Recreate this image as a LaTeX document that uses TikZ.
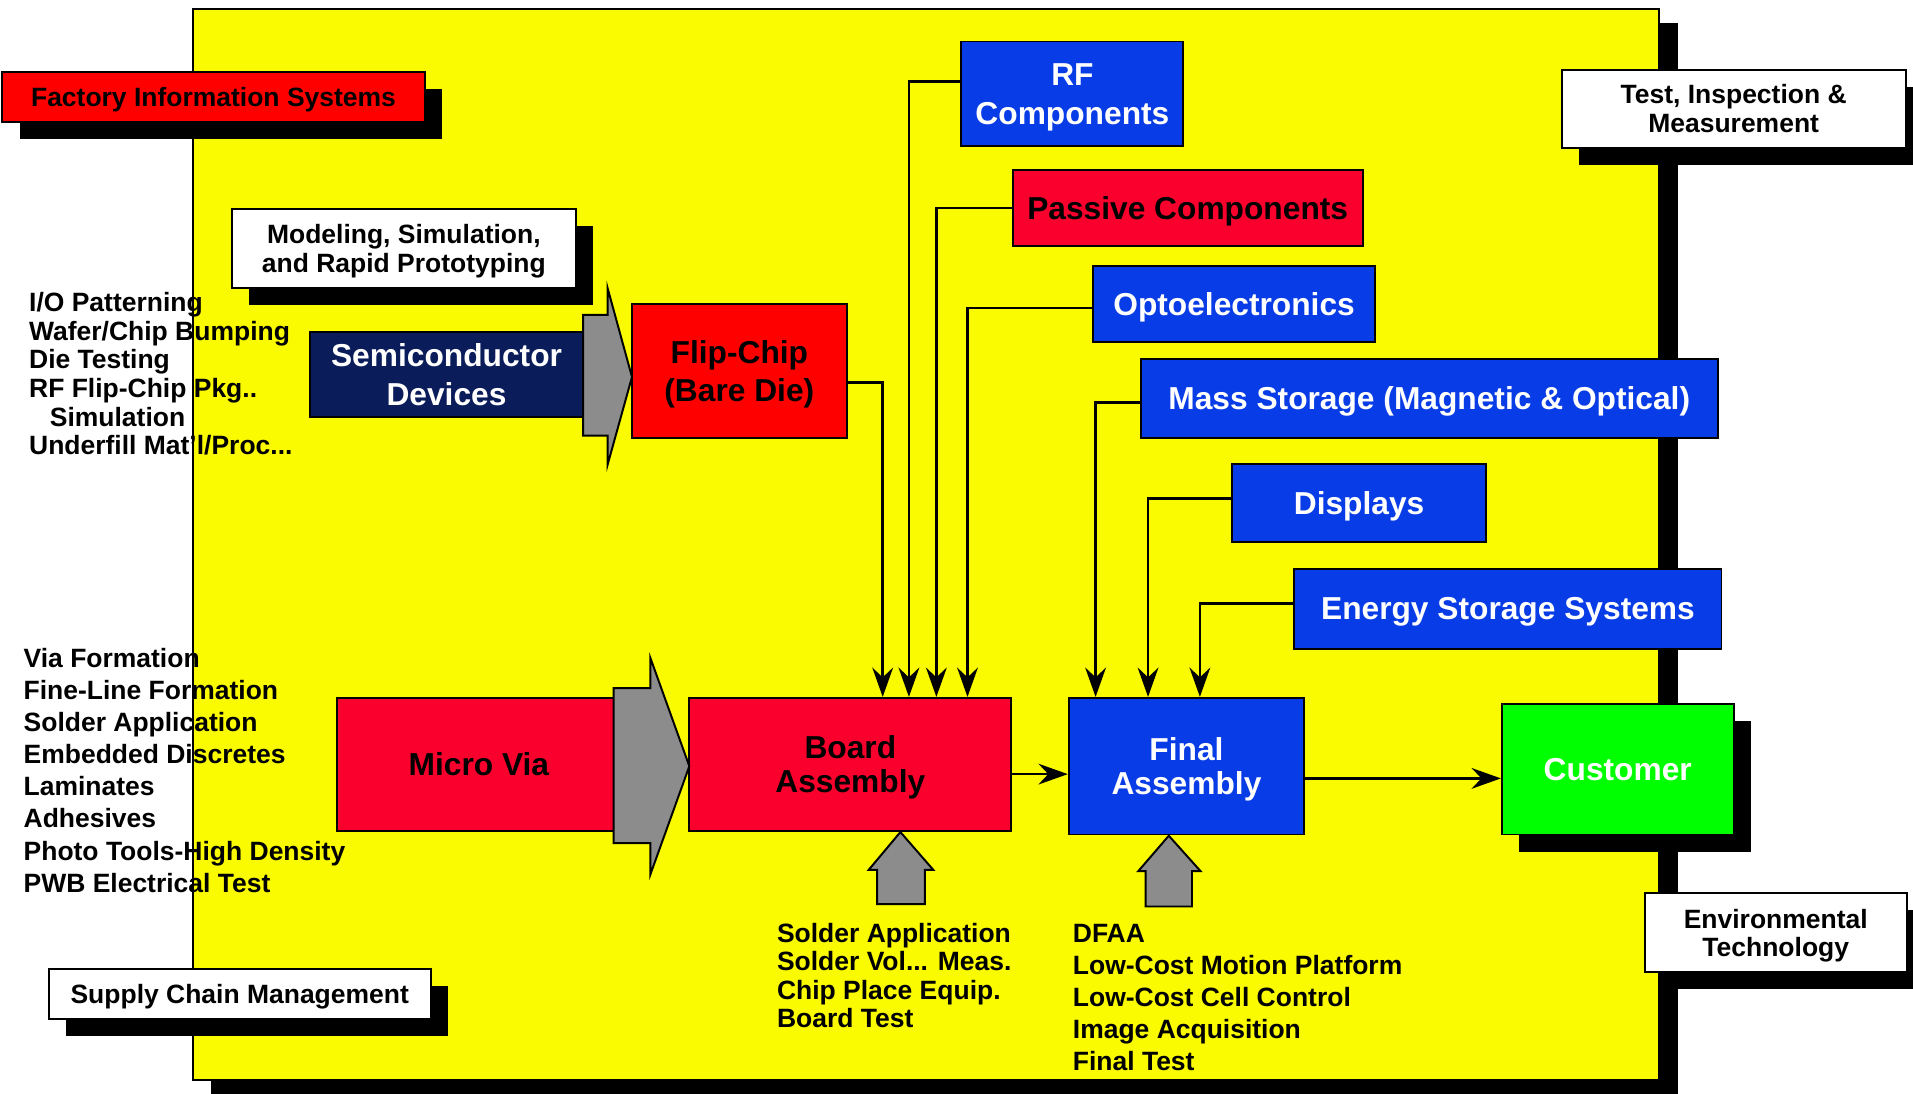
\documentclass[tikz,border=0pt]{standalone}
\usepackage{fontspec}
\setmainfont{Liberation Sans}
\usetikzlibrary{fit,shadows,arrows.meta}
\definecolor{yel}{RGB}{250,250,0}
\definecolor{redA}{RGB}{255,0,0}
\definecolor{crim}{RGB}{250,0,45}
\definecolor{blu}{RGB}{8,60,230}
\definecolor{navy}{RGB}{10,28,90}
\definecolor{grn}{RGB}{0,255,0}
\definecolor{gry}{RGB}{140,140,140}
\begin{document}
\begin{tikzpicture}[x=0.5pt,y=-0.5pt,
  bx/.style={draw=black, line width=0.8pt, inner sep=0pt, text depth=0pt, align=center, font=\bfseries\fontsize{13}{16}\selectfont},
  bxat/.style n args={4}{at={({(#1+#3)/2},{(#2+#4)/2})}, minimum width={(#3-#1)*0.5pt}, minimum height={(#4-#2)*0.5pt}},
  sm/.style={font=\bfseries\fontsize{10.85}{12}\selectfont},
  big/.style={font=\bfseries\fontsize{13}{#1}\selectfont},
  shd/.style={drop shadow={shadow xshift=7pt, shadow yshift=-7pt, fill=black, opacity=1}},
  conn/.style={line width=1.1pt, -{Stealth[length=12pt,width=8.5pt,inset=4pt]}},
  blk/.style={draw=black, line width=0.8pt, fill=gry},
  lst/.style={anchor=north west, inner sep=0pt, align=left, font=\bfseries\fontsize{10.85}{#1}\selectfont},
]
\useasboundingbox (0,0) rectangle (1568,896);
\clip (0,0) rectangle (1568,896);

% main panel
\node[inner sep=0pt, fill=yel, draw=black, line width=0.8pt,
  drop shadow={shadow xshift=7.5pt, shadow yshift=-6pt, fill=black, opacity=1},
  fit={(158,7) (1360,885)}] (panel) {};

% boxes with shadows
\node[bx, sm, fill=redA, shd, bxat={2}{59}{348}{100}] (factory) {Factory Information Systems};
\node[bx, sm, fill=white, shd, bxat={1280}{57}{1562}{121}] (test) {Test, Inspection \&\\Measurement};
\node[bx, sm, fill=white, shd, bxat={190}{171}{472}{236}] (model) {Modeling, Simulation,\\and Rapid Prototyping};
\node[bx, fill=white, shd, bxat={1348}{732}{1563}{797}, font=\bfseries\fontsize{10.85}{11.5}\selectfont] (env) {Environmental\\Technology};
\node[bx, sm, fill=white, shd, bxat={40}{794}{353}{835}] (supply) {Supply Chain Management};
\node[bx, fill=grn, text=white, shd, bxat={1231}{577}{1421}{684}] (customer) {Customer};

% process boxes
\node[bx, fill=navy, text=white, bxat={254}{272}{478}{342}] (semi) {Semiconductor\\Devices};
\node[bx, big=15.5, fill=redA, bxat={518}{249}{694}{359}] (flip) {Flip-Chip\\(Bare Die)};
\node[bx, fill=crim, bxat={276}{572}{509}{681}] (microvia) {Micro Via};
\node[bx, big=14, fill=crim, bxat={565}{572}{829}{681}] (board) {Board\\Assembly};
\node[bx, big=14, fill=blu, text=white, bxat={876}{572}{1069}{684}] (final) {Final\\Assembly};

% component boxes
\node[bx, fill=blu, text=white, bxat={788}{34}{970}{120}] (rf) {RF\\Components};
\node[bx, fill=crim, bxat={830}{139}{1117}{202}] (passive) {Passive Components};
\node[bx, fill=blu, text=white, bxat={896}{218}{1127}{280}] (opto) {Optoelectronics};
\node[bx, fill=blu, text=white, bxat={935}{294}{1408}{359}] (mass) {Mass Storage (Magnetic \& Optical)};
\node[bx, fill=blu, text=white, bxat={1010}{380}{1218}{444}] (displays) {Displays};
\node[bx, fill=blu, text=white, bxat={1061}{466}{1411}{532}] (energy) {Energy Storage Systems};

% block arrows
\draw[blk] (478,258) -- (498,258) -- (498,236) -- (518,309) -- (498,381) -- (498,357) -- (478,357) -- cycle;
\draw[blk] (503,564) -- (533,564) -- (533,539) -- (565,628) -- (533,717) -- (533,691) -- (503,691) -- cycle;
\draw[blk] (738,682) -- (765,713) -- (758,713) -- (758,741) -- (719,741) -- (719,713) -- (712,713) -- cycle;
\draw[blk] (958,685) -- (984,714) -- (977,714) -- (977,743) -- (939,743) -- (939,714) -- (933,714) -- cycle;

% connectors
\draw[conn] ([yshift=-4.75pt]flip.east) -| ([xshift=13.25pt]board.north);
\draw[conn] ([yshift=5pt]rf.west) -| ([xshift=24pt]board.north);
\draw[conn] (passive.west) -| ([xshift=35.25pt]board.north);
\draw[conn] ([yshift=-1.7pt]opto.west) -| ([xshift=48pt]board.north);
\draw[conn] ([yshift=-1.7pt]mass.west) -| ([xshift=-37.25pt]final.north);
\draw[conn] ([yshift=1.75pt]displays.west) -| ([xshift=-15.75pt]final.north);
\draw[conn] ([yshift=2.3pt]energy.west) -| ([xshift=5.5pt]final.north);
\coordinate (ba) at ([yshift=-4pt]board.east);
\draw[conn] (ba) -- (ba -| final.west);
\coordinate (fa) at ([yshift=-5pt]final.east);
\draw[conn] (fa) -- (fa -| customer.west);

% text lists
\node[lst=11.7] (toplist) at (23.5,239.5) {I/O Patterning\\Wafer/Chip Bumping\\Die Testing\\RF Flip-Chip Pkg..\\\hspace*{8.5pt}Simulation\\Underfill Mat'l/Proc...};
\node[lst=13.15] (viallist) at (19,531) {Via Formation\\Fine-Line Formation\\Solder Application\\Embedded Discretes\\Laminates\\Adhesives\\Photo Tools-High Density\\PWB Electrical Test};
\node[lst=11.6] (boardlist) at (636.5,756.5) {Solder Application\\Solder Vol... Meas.\\Chip Place Equip.\\Board Test};
\node[lst=13.1] (finallist) at (879,757.5) {DFAA\\Low-Cost Motion Platform\\Low-Cost Cell Control\\Image Acquisition\\Final Test};
\end{tikzpicture}
\end{document}
